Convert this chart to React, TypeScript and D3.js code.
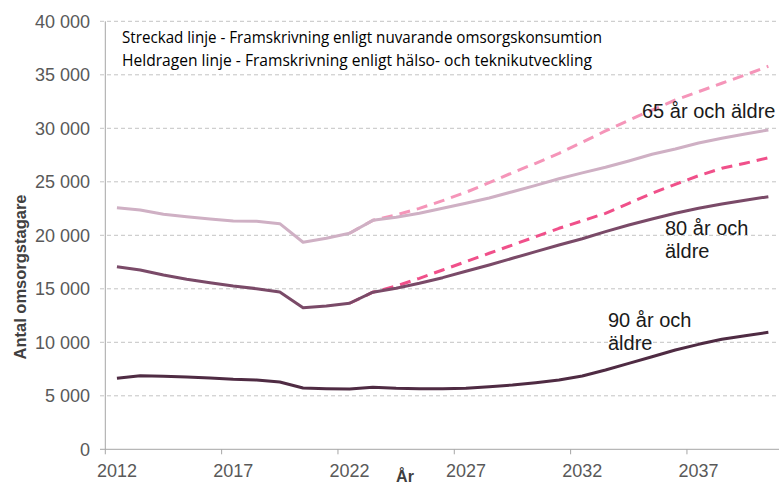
import { useEffect, useRef } from 'react';
import * as d3 from 'd3';

const W = 779;
const H = 484;

const years = d3.range(2012, 2041);

// solid lines (enligt hälso- och teknikutveckling)
const solid65 = [
  22580, 22370, 21960, 21740, 21520, 21340, 21310, 21090, 19350, 19720, 20190, 21400,
  21680, 22060, 22520, 22990, 23490, 24075, 24670, 25290, 25830, 26355, 26945, 27570,
  28065, 28625, 29065, 29470, 29840,
];
const solid80 = [
  17070, 16760, 16290, 15890, 15570, 15260, 15010, 14700, 13240, 13390, 13650, 14680,
  15050, 15515, 16040, 16635, 17225, 17850, 18470, 19095, 19680, 20340, 20960, 21520,
  22055, 22520, 22925, 23270, 23610,
];
const solid90 = [
  6640, 6880, 6820, 6760, 6670, 6540, 6480, 6290, 5730, 5670, 5640, 5800,
  5700, 5670, 5650, 5700, 5850, 6010, 6225, 6480, 6850, 7410, 8035, 8655,
  9280, 9810, 10280, 10620, 10935,
];

// dashed lines (enligt nuvarande omsorgskonsumtion), from 2022
const dashYears = d3.range(2022, 2041);
const dashed65 = [
  20190, 21400, 21900, 22520, 23235, 24020, 24915, 25850, 26730, 27660, 28700, 29750,
  30750, 31710, 32645, 33420, 34210, 34980, 35800,
];
const dashed80 = [
  13650, 14680, 15260, 15980, 16760, 17535, 18320, 19095, 19870, 20655, 21350, 22055,
  22990, 23925, 24765, 25570, 26260, 26730, 27250,
];

const yTicks = [0, 5000, 10000, 15000, 20000, 25000, 30000, 35000, 40000];
const xTickYears = [2012, 2017, 2022, 2027, 2032, 2037];

const fmt = (v: number) => (v >= 1000 ? `${Math.floor(v / 1000)} ${String(v % 1000).padStart(3, '0')}` : `${v}`);

export default function App() {
  const svgRef = useRef<SVGSVGElement>(null);

  useEffect(() => {
    if (!svgRef.current) return;
    const svg = d3.select(svgRef.current);
    svg.selectAll('*').remove();

    const x = d3.scaleLinear().domain([2012, 2041]).range([105.3, 780]);
    const y = d3.scaleLinear().domain([0, 40000]).range([449.3, 21.3]);
    const cx = (yr: number) => x(yr + 0.5);

    // gridlines
    const grid = svg.append('g');
    yTicks.slice(1).forEach((t) => {
      grid.append('line')
        .attr('x1', 100).attr('x2', W)
        .attr('y1', y(t)).attr('y2', y(t))
        .attr('stroke', '#c3c3c3')
        .attr('stroke-width', 1)
        .attr('stroke-dasharray', '4,3');
    });

    // axes
    svg.append('line')
      .attr('x1', x(2012)).attr('x2', x(2012))
      .attr('y1', y(40000)).attr('y2', y(0))
      .attr('stroke', '#a6a6a6');
    svg.append('line')
      .attr('x1', 100).attr('x2', W)
      .attr('y1', y(0)).attr('y2', y(0))
      .attr('stroke', '#a6a6a6');
    xTickYears.forEach((yr) => {
      svg.append('line')
        .attr('x1', x(yr)).attr('x2', x(yr))
        .attr('y1', y(0)).attr('y2', y(0) + 5)
        .attr('stroke', '#a6a6a6');
      svg.append('text')
        .attr('x', cx(yr))
        .attr('y', 477)
        .attr('text-anchor', 'middle')
        .attr('font-family', 'Liberation Sans, Arial, sans-serif')
        .attr('font-size', 18)
        .attr('fill', '#595959')
        .text(yr);
    });
    yTicks.forEach((t) => {
      svg.append('text')
        .attr('x', 90)
        .attr('y', y(t) + 6.5)
        .attr('text-anchor', 'end')
        .attr('font-family', 'Liberation Sans, Arial, sans-serif')
        .attr('font-size', 18)
        .attr('fill', '#595959')
        .text(fmt(t));
    });

    // axis titles
    svg.append('text')
      .attr('transform', 'translate(26,277) rotate(-90)')
      .attr('text-anchor', 'middle')
      .attr('font-family', 'Liberation Sans, Arial, sans-serif')
      .attr('font-size', 16.5)
      .attr('font-weight', 'bold')
      .attr('fill', '#404040')
      .text('Antal omsorgstagare');
    svg.append('text')
      .attr('x', 405)
      .attr('y', 482)
      .attr('text-anchor', 'middle')
      .attr('font-family', 'Liberation Sans, Arial, sans-serif')
      .attr('font-size', 16)
      .attr('font-weight', 'bold')
      .attr('fill', '#404040')
      .text('År');

    // lines
    const line = d3.line<[number, number]>()
      .x((d) => cx(d[0]))
      .y((d) => y(d[1]));

    const drawLine = (xs: number[], vals: number[], color: string, dash?: string) => {
      const p = svg.append('path')
        .datum(xs.map((yr, i) => [yr, vals[i]] as [number, number]))
        .attr('d', line)
        .attr('fill', 'none')
        .attr('stroke', color)
        .attr('stroke-width', 3)
        .attr('stroke-linejoin', 'round');
      if (dash) p.attr('stroke-dasharray', dash);
    };

    drawLine(dashYears, dashed65, '#f595b9', '11,7');
    drawLine(dashYears, dashed80, '#f0508a', '11,7');
    drawLine(years, solid65, '#cfb0c4');
    drawLine(years, solid80, '#7a4a68');
    drawLine(years, solid90, '#4f2b43');

    // annotation
    const ann = svg.append('g')
      .attr('font-family', 'Open Sans, Noto Sans, sans-serif')
      .attr('font-size', 15.5)
      .attr('fill', '#000');
    ann.append('text')
      .attr('x', 122).attr('y', 43)
      .attr('textLength', 480)
      .attr('lengthAdjust', 'spacingAndGlyphs')
      .text('Streckad linje - Framskrivning enligt nuvarande omsorgskonsumtion');
    ann.append('text')
      .attr('x', 122).attr('y', 66)
      .attr('textLength', 470)
      .attr('lengthAdjust', 'spacingAndGlyphs')
      .text('Heldragen linje - Framskrivning enligt hälso- och teknikutveckling');

    // series labels
    const lab = svg.append('g')
      .attr('font-family', 'Liberation Sans, Arial, sans-serif')
      .attr('font-size', 20)
      .attr('fill', '#1a1a1a');
    lab.append('text').attr('x', 642).attr('y', 118).text('65 år och äldre');
    lab.append('text').attr('x', 665).attr('y', 235).text('80 år och');
    lab.append('text').attr('x', 665).attr('y', 258).text('äldre');
    lab.append('text').attr('x', 608).attr('y', 327).text('90 år och');
    lab.append('text').attr('x', 608).attr('y', 350).text('äldre');
  }, []);

  return (
    <div style={{ position: 'fixed', left: 0, top: 0, width: W, height: H, background: '#fff' }}>
      <svg ref={svgRef} width={W} height={H} style={{ display: 'block' }} />
    </div>
  );
}
